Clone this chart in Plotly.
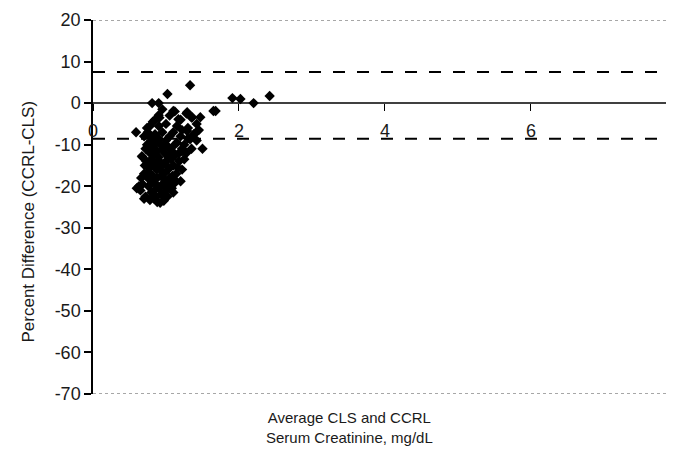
import plotly.graph_objects as go

# Average serum creatinine (mg/dL) and percent difference (CCRL-CLS)
avg_creat = [
    1.33, 1.02, 0.81, 0.90, 0.59, 1.10, 1.29, 1.36, 1.50, 1.65, 0.90,
    1.91, 2.02, 2.20, 2.42, 1.68, 7.97,
    0.95, 1.05, 1.12, 1.20, 1.28, 1.35, 1.42, 1.30, 0.85, 0.90, 1.00, 1.15, 0.78, 1.22,
    1.17, 1.47, 1.43, 1.29, 1.22, 1.33, 0.67,
    0.70, 0.75, 0.80, 0.85, 0.90, 0.95, 1.00, 1.05, 1.10, 1.15, 1.20, 1.25, 1.30, 1.38,
    1.42, 1.45, 1.35, 1.28, 0.72, 0.78, 0.82, 0.88, 0.93, 0.98, 1.03, 1.08, 1.12, 1.18, 1.22,
    0.68, 0.73, 0.77, 0.80, 0.84, 0.87, 0.90, 0.94, 0.97, 1.00, 1.03, 1.07, 1.10, 1.14,
    1.18, 1.22, 0.70, 0.75, 0.82, 0.88, 0.93, 0.99, 1.05, 1.12, 1.25, 1.20,
    0.60, 0.65, 0.68, 0.72, 0.76, 0.80, 0.84, 0.86, 0.90, 0.94, 0.97, 1.00, 1.04, 1.08,
    1.12, 0.70, 0.78, 0.88, 0.92, 1.02, 0.63, 1.10,
    0.74, 0.79, 0.83, 0.86, 0.91, 0.96, 1.01, 1.06, 0.76, 0.81, 0.89, 0.95, 1.04, 1.09,
    0.71, 0.84, 0.92, 0.99, 1.13, 0.87, 0.97, 1.16, 0.66, 0.74, 0.82, 0.91,
]
pct_diff = [
    4.3, 2.2, 0.0, 0.0, -7.0, -1.9, -2.2, -3.4, -11.0, -1.9, -2.9,
    1.2, 1.0, 0.0, 1.7, -1.9, 4.4,
    -1.5, -3.0, -2.0, -4.0, -2.5, -3.5, -5.0, -6.0, -4.0, -5.5, -5.0, -5.5, -5.5, -6.5,
    -3.9, -3.4, -6.7, -6.7, -11.6, -8.7, -12.8,
    -8.0, -7.0, -9.0, -7.5, -8.5, -7.0, -9.0, -8.0, -7.0, -9.5, -8.0, -10.0, -8.5, -7.5,
    -9.0, -6.5, -11.0, -12.0, -11.0, -12.0, -10.5, -11.5, -10.0, -12.0, -10.5, -11.5, -10.0, -12.0, -11.0,
    -13.0, -14.0, -15.5, -13.5, -14.5, -16.0, -13.0, -15.0, -17.0, -14.0, -16.0, -13.5, -15.0, -17.0,
    -14.0, -16.0, -17.0, -18.0, -17.5, -18.0, -17.5, -18.5, -18.0, -18.5, -13.5, -18.8,
    -20.5, -21.0, -19.5, -22.5, -20.0, -21.5, -23.0, -19.5, -20.5, -22.0, -23.5, -21.0, -19.5, -20.5,
    -19.2, -23.0, -23.3, -23.8, -24.0, -22.5, -20.0, -21.5,
    -6.0, -8.0, -12.5, -9.5, -14.0, -11.0, -15.0, -12.5, -16.5, -19.0, -15.5, -19.5, -13.0, -17.5,
    -15.0, -21.0, -16.0, -20.0, -12.5, -22.5, -10.5, -15.5, -18.0, -10.0, -4.5, -3.5,
]

limit_upper = 7.5
limit_lower = -8.6

x_ticks = [0, 2, 4, 6]
y_ticks = [20, 10, 0, -10, -20, -30, -40, -50, -60, -70]
y_tick_labels = ["20", "10", "0", "-10", "-20", "-30", "-40", "-50", "-60", "-70"]
x_range = [0, 7.96]
y_range = [-70, 20]

FONT = "Liberation Sans, Arial, sans-serif"
TXT = "#1a1a1a"

fig = go.Figure()
fig.add_trace(go.Scatter(
    x=avg_creat, y=pct_diff, mode="markers",
    marker=dict(symbol="diamond", size=8, color="black", line=dict(width=0)),
    showlegend=False,
))

fig.add_hline(y=limit_upper, line=dict(color="black", width=2, dash="12px,12px"))
fig.add_hline(y=limit_lower, line=dict(color="black", width=2, dash="12px,12px"))
fig.add_hline(y=0, line=dict(color="black", width=1.5))
fig.add_hline(y=y_range[1], line=dict(color="#8a8a8a", width=1.5, dash="dot"))
fig.add_hline(y=y_range[0], line=dict(color="#8a8a8a", width=1.5, dash="dot"))

zero_pos = (0 - y_range[0]) / (y_range[1] - y_range[0])

fig.update_layout(
    width=666, height=444,
    margin=dict(l=85, r=0, t=12, b=58, autoexpand=False),
    paper_bgcolor="white", plot_bgcolor="white",
    font=dict(family=FONT, color=TXT),
    xaxis=dict(
        range=x_range, tickvals=x_ticks, ticktext=[str(v) for v in x_ticks],
        anchor="free", position=zero_pos, showgrid=False, zeroline=False,
        showline=False, ticks="outside", ticklen=7, tickcolor="black",
        tickfont=dict(size=18, family=FONT, color=TXT), ticklabelstandoff=4,
        automargin=False,
    ),
    yaxis=dict(
        range=y_range, tickvals=y_ticks, ticktext=y_tick_labels, showgrid=False, zeroline=False,
        showline=True, linecolor="black", linewidth=1.5, ticks="outside",
        ticklen=7, tickcolor="black", tickwidth=1.5,
        tickfont=dict(size=18, family=FONT, color=TXT), automargin=False,
    ),
    annotations=[
        dict(text="8", xref="paper", yref="y", x=1.0, xanchor="left", xshift=-3, y=0, yshift=-28,
             showarrow=False, font=dict(size=18, family=FONT, color=TXT)),
        dict(text="Average CLS and CCRL<br>Serum Creatinine, mg/dL", xref="paper", yref="paper",
             x=(349 - 93) / 581, y=-0.035, yanchor="top", showarrow=False,
             font=dict(size=15, family=FONT, color=TXT)),
        dict(text="Percent Difference (CCRL-CLS)", xref="paper", yref="paper",
             x=(17 - 93) / 581, y=(394 - 222) / 374, textangle=-90,
             showarrow=False, font=dict(size=17, family=FONT, color=TXT)),
    ],
)

fig.write_html("out.html")
